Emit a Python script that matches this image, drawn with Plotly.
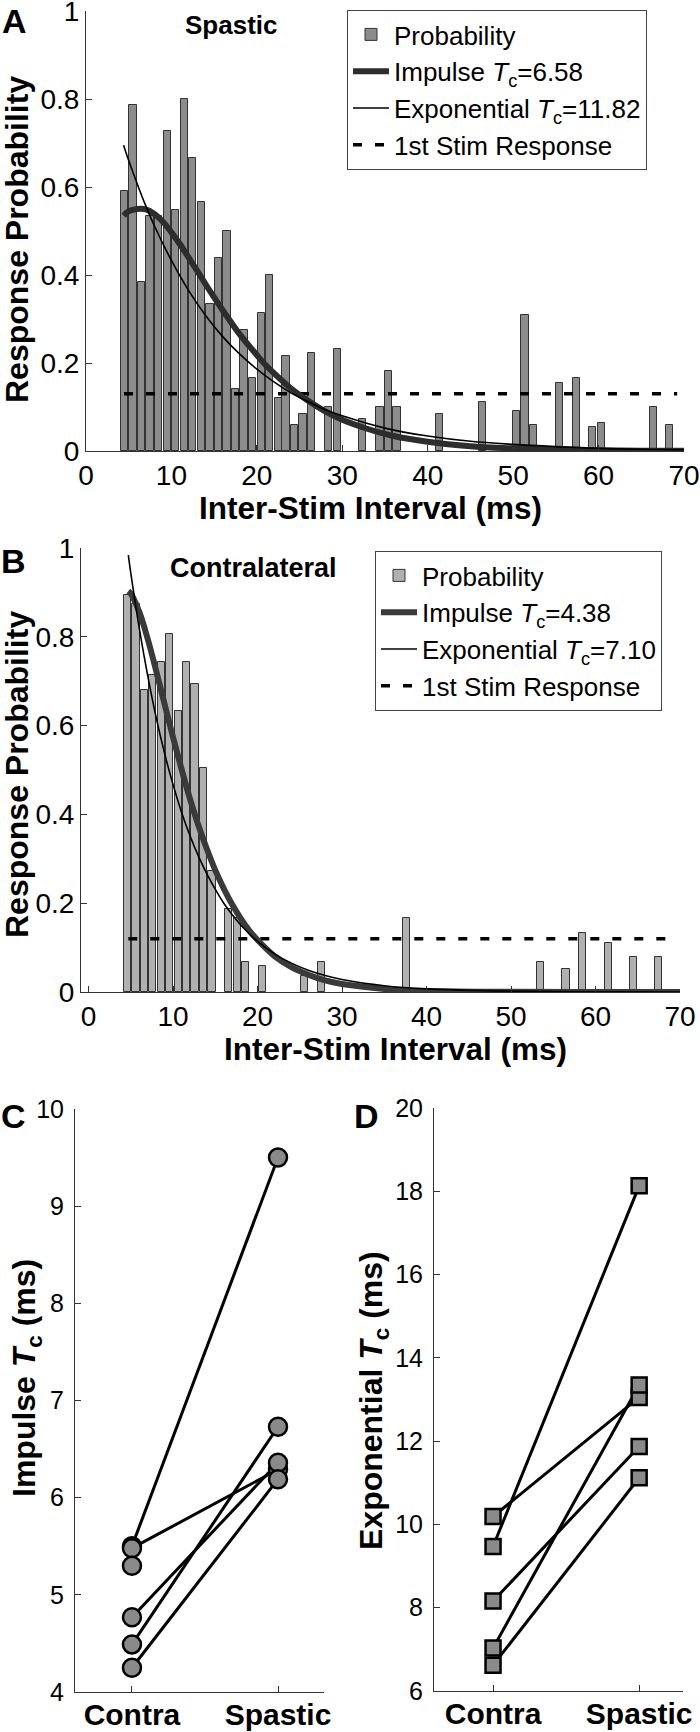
import plotly.graph_objects as go

W, H = 700, 1732
FONT = "Liberation Sans, Arial, Helvetica, sans-serif"

# ---------------- Panel A (Spastic) ----------------
isi_A = [4.5, 5.5, 6.5, 7.5, 8.5, 9.5, 10.5, 11.5, 12.5, 13.5, 14.5, 15.5, 16.5, 17.5,
         18.5, 19.5, 20.5, 21.5, 22.5, 23.4, 24.4, 25.4, 26.4, 28.4, 29.4, 32.4, 34.4,
         35.4, 36.4, 41.4, 46.4, 50.4, 51.4, 52.4, 55.4, 57.4, 59.3, 60.3, 66.4, 68.3]
prob_A = [0.590, 0.787, 0.385, 0.534, 0.535, 0.728, 0.547, 0.801, 0.667, 0.566, 0.335,
          0.438, 0.500, 0.142, 0.274, 0.166, 0.314, 0.401, 0.120, 0.215, 0.058, 0.085,
          0.223, 0.100, 0.231, 0.072, 0.100, 0.182, 0.100, 0.083, 0.111, 0.091, 0.308,
          0.058, 0.155, 0.167, 0.055, 0.063, 0.100, 0.060]

t_imp_A = [4.4, 5, 6, 7, 8, 9, 10, 11, 12, 13, 14, 15, 16, 17, 18, 19, 20, 21, 22, 23, 24,
           26, 28, 30, 33, 36, 40, 45, 50, 55, 60, 65, 70]
imp_A = [0.535, 0.545, 0.550, 0.549, 0.539, 0.521, 0.497, 0.470, 0.440, 0.410, 0.379,
         0.349, 0.320, 0.292, 0.265, 0.241, 0.218, 0.196, 0.177, 0.159, 0.142, 0.114,
         0.090, 0.071, 0.050, 0.034, 0.021, 0.011, 0.006, 0.003, 0.0015, 0.0007, 0.0003]

t_exp_A = [4.4, 5, 6, 7, 8, 10, 12, 14, 16, 18, 20, 22, 24, 26, 28, 30, 35, 40, 45, 50,
           55, 60, 65, 70]
exp_A = [0.695, 0.660, 0.607, 0.557, 0.512, 0.433, 0.365, 0.308, 0.260, 0.220, 0.186,
         0.157, 0.132, 0.112, 0.094, 0.080, 0.052, 0.034, 0.022, 0.015, 0.010, 0.006,
         0.004, 0.003]

stim_x_A = [4.45, 69.2]
stim_A = [0.13, 0.13]
tc_imp_A, tc_exp_A = "6.58", "11.82"

# ---------------- Panel B (Contralateral) ----------------
isi_B = [4.6, 5.6, 6.6, 7.6, 8.6, 9.6, 10.6, 11.6, 12.6, 13.6, 14.6, 16.6, 17.6, 18.6,
         20.6, 25.6, 27.6, 37.6, 53.5, 56.5, 58.5, 61.5, 64.5, 67.5]
prob_B = [0.894, 0.875, 0.680, 0.715, 0.744, 0.806, 0.633, 0.744, 0.694, 0.505, 0.273,
          0.188, 0.166, 0.067, 0.059, 0.035, 0.068, 0.167, 0.068, 0.051, 0.134, 0.110,
          0.078, 0.078]

t_imp_B = [4.7, 5, 6, 7, 8, 9, 10, 11, 12, 13, 14, 15, 16, 17, 18, 19, 20, 22, 24, 26,
           28, 30, 35, 40, 50, 60, 70]
imp_B = [0.903, 0.897, 0.856, 0.795, 0.723, 0.648, 0.573, 0.502, 0.435, 0.375, 0.322,
         0.274, 0.233, 0.197, 0.166, 0.139, 0.117, 0.081, 0.056, 0.039, 0.026, 0.018,
         0.007, 0.002, 0.0003, 0.0, 0.0]

t_exp_B = [4.7, 5, 6, 7, 8, 9, 10, 11, 12, 13, 14, 15, 16, 17, 18, 20, 22, 24, 26, 28,
           30, 35, 40, 50, 60, 70]
exp_B = [0.984, 0.943, 0.819, 0.712, 0.618, 0.537, 0.467, 0.405, 0.352, 0.306, 0.266,
         0.231, 0.200, 0.174, 0.151, 0.114, 0.086, 0.065, 0.049, 0.037, 0.028, 0.014,
         0.007, 0.002, 0.0004, 0.0001]

stim_x_B = [4.7, 69.4]
stim_B = [0.12, 0.12]
tc_imp_B, tc_exp_B = "4.38", "7.10"

# ---------------- Panels C / D ----------------
conditions = ["Contra", "Spastic"]
cond_pos = [1, 2]
impulse_contra = [5.50, 5.48, 4.77, 4.49, 4.25, 5.30]
impulse_spastic = [9.50, 6.29, 6.36, 6.73, 6.19, None]
expon_contra = [10.19, 9.47, 8.16, 7.03, 6.62]
expon_spastic = [13.05, 18.13, 11.87, 13.35, 11.12]


def px(x):
    return x / W


def py(y):
    return 1 - y / H


fig = go.Figure()

# ---- Panel A traces ----
fig.add_trace(go.Bar(x=isi_A, y=prob_A, width=0.85, marker=dict(color="#8c8c8c", line=dict(color="#333333", width=1)),
                     name="Probability", legend="legend", legendrank=1, xaxis="x", yaxis="y"))
fig.add_trace(go.Scatter(x=stim_x_A, y=stim_A, mode="lines", line=dict(color="black", width=3.5, dash="9px,13px"),
                         name="1st Stim Response", legend="legend", legendrank=4, xaxis="x", yaxis="y"))
fig.add_trace(go.Scatter(x=t_imp_A, y=imp_A, mode="lines", line=dict(color="#2d2d2d", width=6, shape="spline"),
                         name="Impulse <i>T</i><sub>c</sub>=" + tc_imp_A, legend="legend", legendrank=2,
                         xaxis="x", yaxis="y"))
fig.add_trace(go.Scatter(x=t_exp_A, y=exp_A, mode="lines", line=dict(color="black", width=1.6, shape="spline"),
                         name="Exponential <i>T</i><sub>c</sub>=" + tc_exp_A, legend="legend", legendrank=3,
                         xaxis="x", yaxis="y"))

# ---- Panel B traces ----
fig.add_trace(go.Bar(x=isi_B, y=prob_B, width=0.85, marker=dict(color="#b0b0b0", line=dict(color="#333333", width=1)),
                     name="Probability", legend="legend2", legendrank=1, xaxis="x2", yaxis="y2"))
fig.add_trace(go.Scatter(x=stim_x_B, y=stim_B, mode="lines", line=dict(color="black", width=3.5, dash="9px,13px"),
                         name="1st Stim Response", legend="legend2", legendrank=4, xaxis="x2", yaxis="y2"))
fig.add_trace(go.Scatter(x=t_imp_B, y=imp_B, mode="lines", line=dict(color="#3a3a3a", width=6, shape="spline"),
                         name="Impulse <i>T</i><sub>c</sub>=" + tc_imp_B, legend="legend2", legendrank=2,
                         xaxis="x2", yaxis="y2"))
fig.add_trace(go.Scatter(x=t_exp_B, y=exp_B, mode="lines", line=dict(color="black", width=1.6, shape="spline"),
                         name="Exponential <i>T</i><sub>c</sub>=" + tc_exp_B, legend="legend2", legendrank=3,
                         xaxis="x2", yaxis="y2"))


def paired(contra, spastic):
    xs, ys = [], []
    for a, b in zip(contra, spastic):
        if a is None or b is None:
            continue
        xs += [cond_pos[0], cond_pos[1], None]
        ys += [a, b, None]
    mx, my = [], []
    for a in contra:
        mx.append(cond_pos[0]); my.append(a)
    for b in spastic:
        if b is not None:
            mx.append(cond_pos[1]); my.append(b)
    return xs, ys, mx, my


# ---- Panel C ----
lx, ly, mx, my = paired(impulse_contra, impulse_spastic)
fig.add_trace(go.Scatter(x=lx, y=ly, mode="lines", line=dict(color="black", width=3),
                         showlegend=False, xaxis="x3", yaxis="y3"))
fig.add_trace(go.Scatter(x=mx, y=my, mode="markers",
                         marker=dict(symbol="circle", size=18, color="#8a8a8a", line=dict(color="black", width=2.5)),
                         showlegend=False, xaxis="x3", yaxis="y3"))

# ---- Panel D ----
lx, ly, mx, my = paired(expon_contra, expon_spastic)
fig.add_trace(go.Scatter(x=lx, y=ly, mode="lines", line=dict(color="black", width=3),
                         showlegend=False, xaxis="x4", yaxis="y4"))
fig.add_trace(go.Scatter(x=mx, y=my, mode="markers",
                         marker=dict(symbol="square", size=15, color="#8a8a8a", line=dict(color="black", width=2.5)),
                         showlegend=False, xaxis="x4", yaxis="y4"))


def axis(size=28, **kw):
    d = dict(showline=True, linecolor="#333333", linewidth=1, ticks="inside", ticklen=6,
             tickcolor="#333333", showgrid=False, zeroline=False, mirror=False, automargin=False,
             ticklabeloverflow="allow",
             tickfont=dict(size=size, color="black", family=FONT))
    d.update(kw)
    return d


CAT_FONT = dict(size=30, color="black", family=FONT, weight="bold")

fig.update_layout(
    width=W, height=H,
    margin=dict(l=0, r=0, t=0, b=0, autoexpand=False),
    paper_bgcolor="white", plot_bgcolor="white",
    font=dict(family=FONT, color="black"),
    bargap=0,
    xaxis=axis(domain=[px(86), px(684)], range=[0, 70], tickvals=[0, 10, 20, 30, 40, 50, 60, 70],
               anchor="y", ticklabelstandoff=-1),
    yaxis=axis(domain=[py(451), py(11)], range=[0, 1], tickvals=[0, 0.2, 0.4, 0.6, 0.8, 1],
               ticktext=["0", "0.2", "0.4", "0.6", "0.8", "1"], anchor="x"),
    xaxis2=axis(domain=[px(81), px(680)], range=[-0.9, 70], tickvals=[0, 10, 20, 30, 40, 50, 60, 70],
                anchor="y2", ticklabelstandoff=-1),
    yaxis2=axis(domain=[py(992), py(548)], range=[0, 1], tickvals=[0, 0.2, 0.4, 0.6, 0.8, 1],
                ticktext=["0", "0.2", "0.4", "0.6", "0.8", "1"], anchor="x2"),
    xaxis3=axis(domain=[px(75), px(324)], range=[0.61, 2.315], tickvals=cond_pos, ticktext=conditions,
                anchor="y3", ticklabelstandoff=-4, tickfont=CAT_FONT),
    yaxis3=axis(size=25, domain=[py(1692), py(1109)], range=[4, 10], tickvals=[4, 5, 6, 7, 8, 9, 10],
                anchor="x3", ticklabelstandoff=5),
    xaxis4=axis(domain=[px(434), px(683)], range=[0.596, 2.30], tickvals=cond_pos, ticktext=conditions,
                anchor="y4", ticklabelstandoff=-4, tickfont=CAT_FONT),
    yaxis4=axis(size=25, domain=[py(1691), py(1108)], range=[6, 20], tickvals=[6, 8, 10, 12, 14, 16, 18, 20],
                anchor="x4", ticklabelstandoff=5),
    legend=dict(x=px(347), y=py(10), xanchor="left", yanchor="top", bordercolor="#444444", borderwidth=1,
                bgcolor="white", font=dict(size=26, family=FONT, color="black"), itemwidth=36,
                traceorder="normal"),
    legend2=dict(x=px(375), y=py(551), xanchor="left", yanchor="top", bordercolor="#444444", borderwidth=1,
                 bgcolor="white", font=dict(size=26, family=FONT, color="black"), itemwidth=36,
                 traceorder="normal"),
)

ann = []


def label(text, x, y, size, angle=0, bold=True, xanchor="center"):
    ann.append(dict(text=("<b>%s</b>" % text) if bold else text, x=px(x), y=py(y), xref="paper", yref="paper",
                    showarrow=False, xanchor=xanchor, yanchor="middle", textangle=angle,
                    font=dict(size=size, family=FONT, color="black")))


# panel letters
label("A", 14, 21, 34)
label("B", 13, 561, 34)
label("C", 13, 1116, 34)
label("D", 367, 1116, 34)
# panel titles
label("Spastic", 231, 25, 26)
label("Contralateral", 253, 568, 27)
# axis titles
label("Response Probability", 17, 240, 32, angle=-90)
label("Response Probability", 17, 775, 32, angle=-90)
label("Inter-Stim Interval (ms)", 370, 508, 31.5)
label("Inter-Stim Interval (ms)", 395, 1049, 31.5)
label("Impulse <i>T</i><sub>c</sub> (ms)", 26, 1378, 32, angle=-90)
label("Exponential <i>T</i><sub>c</sub> (ms)", 373, 1400, 32, angle=-90)

fig.update_layout(annotations=ann)

fig.write_html("out.html", config={"displayModeBar": False},
               post_script="document.body.style.margin='0px';document.body.style.padding='0px';")
